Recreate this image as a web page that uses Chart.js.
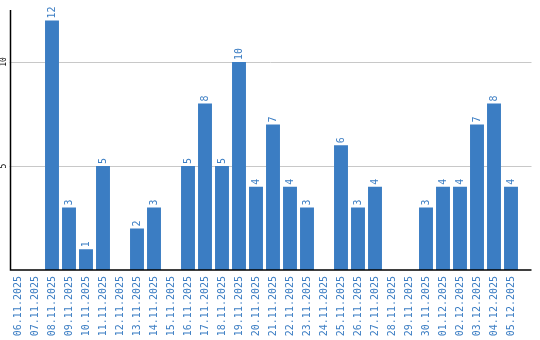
<!DOCTYPE html>
<html>
<head>
<meta charset="utf-8">
<script src="https://cdn.jsdelivr.net/npm/chart.js@4/dist/chart.umd.min.js"></script>
<style>
  html, body { margin: 0; padding: 0; background: #fff; }
  #wrap { width: 540px; height: 340px; }
</style>
</head>
<body>
<div id="wrap"><canvas id="chart"></canvas></div>
<script>
var dates = ['06.11.2025', '07.11.2025', '08.11.2025', '09.11.2025', '10.11.2025', '11.11.2025',
    '12.11.2025', '13.11.2025', '14.11.2025', '15.11.2025', '16.11.2025', '17.11.2025',
    '18.11.2025', '19.11.2025', '20.11.2025', '21.11.2025', '22.11.2025', '23.11.2025',
    '24.11.2025', '25.11.2025', '26.11.2025', '27.11.2025', '28.11.2025', '29.11.2025',
    '30.11.2025', '01.12.2025', '02.12.2025', '03.12.2025', '04.12.2025', '05.12.2025'];
var counts = [0, 0, 12, 3, 1, 5, 0, 2, 3, 0, 5, 8, 5, 10, 4, 7, 4, 3, 0, 6, 3, 4, 0, 0, 3, 4, 4, 7, 8, 4];
var yTicks = [5, 10];

var blue = '#3b7dc3';
var mono = '"DejaVu Sans Mono", monospace';

// grid lines + axis lines, drawn a bit past the right of the bars like the original
var axesPlugin = {
    id: 'axesLines',
    beforeDatasetsDraw: function (chart) {
        var ctx = chart.ctx, a = chart.chartArea, y = chart.scales.y;
        ctx.save();
        ctx.strokeStyle = '#c8c8c8';
        ctx.lineWidth = 1;
        yTicks.forEach(function (v) {
            var py = Math.round(y.getPixelForValue(v)) + 0.5;
            ctx.beginPath();
            ctx.moveTo(a.left, py);
            ctx.lineTo(a.right + 12, py);
            ctx.stroke();
        });
        ctx.restore();
    },
    afterDatasetsDraw: function (chart) {
        var ctx = chart.ctx, a = chart.chartArea;
        ctx.save();
        ctx.strokeStyle = '#000';
        ctx.lineWidth = 1.5;
        ctx.beginPath();
        ctx.moveTo(a.left + 1, a.top);
        ctx.lineTo(a.left + 1, a.bottom);
        ctx.lineTo(a.right + 12, a.bottom);
        ctx.stroke();
        ctx.restore();
    }
};

// rotated value labels above each bar
var valueLabels = {
    id: 'valueLabels',
    afterDatasetsDraw: function (chart) {
        var ctx = chart.ctx;
        var meta = chart.getDatasetMeta(0);
        ctx.save();
        ctx.font = '10px ' + mono;
        ctx.fillStyle = blue;
        ctx.textAlign = 'left';
        ctx.textBaseline = 'middle';
        meta.data.forEach(function (bar, i) {
            if (!counts[i]) return;
            ctx.save();
            ctx.translate(bar.x, bar.y - 2);
            ctx.rotate(-Math.PI / 2);
            ctx.fillText(String(counts[i]), 0, 0);
            ctx.restore();
        });
        ctx.restore();
    }
};

new Chart(document.getElementById('chart').getContext('2d'), {
    type: 'bar',
    data: {
        labels: dates,
        datasets: [{
            data: counts,
            backgroundColor: blue,
            borderWidth: 0,
            categoryPercentage: 1,
            barPercentage: 0.82
        }]
    },
    options: {
        responsive: true,
        maintainAspectRatio: false,
        animation: false,
        layout: { padding: { top: 10, right: 20.5, left: 0, bottom: 0 } },
        plugins: {
            legend: { display: false },
            tooltip: { enabled: false }
        },
        scales: {
            x: {
                grid: { display: false, drawTicks: false },
                border: { display: false },
                ticks: {
                    color: blue,
                    font: { family: mono, size: 10 },
                    minRotation: 90,
                    maxRotation: 90,
                    padding: 6,
                    autoSkip: false
                },
                afterFit: function (s) { s.height = 70; }
            },
            y: {
                min: 0,
                max: 12.5,
                grid: { display: false, drawTicks: false },
                border: { display: false },
                afterBuildTicks: function (s) {
                    s.ticks = yTicks.map(function (v) { return { value: v }; });
                },
                ticks: {
                    color: '#000',
                    font: { family: mono, size: 8 },
                    minRotation: 90,
                    maxRotation: 90,
                    crossAlign: 'center',
                    padding: 1
                },
                afterFit: function (s) { s.width = 9.5; }
            }
        }
    },
    plugins: [axesPlugin, valueLabels]
});
</script>
</body>
</html>
